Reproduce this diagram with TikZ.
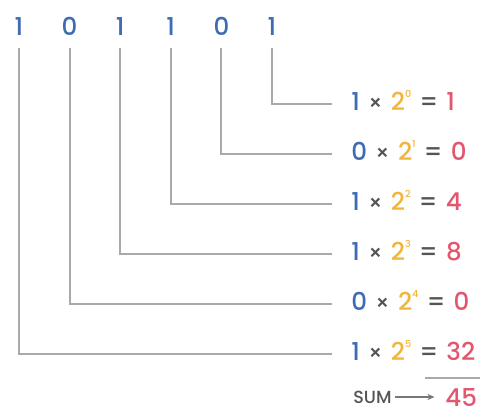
\documentclass[tikz,border=0pt]{standalone}
\usepackage{fontspec}
\setmainfont{Poppins}[UprightFont={* Medium}, BoldFont={* SemiBold}]
\usetikzlibrary{arrows.meta,positioning}

\definecolor{bitblue}{HTML}{3D6CB4}
\definecolor{powgold}{HTML}{F3B43C}
\definecolor{valred}{HTML}{E2566F}
\definecolor{opgray}{HTML}{555555}
\definecolor{wiregray}{HTML}{A9A9A9}

% power of two with a small raised exponent
\newcommand{\pw}[1]{2\raisebox{0.5em}{\fontsize{5.5}{5.5}\selectfont #1}}
\newcommand{\gap}{\hspace{4.6pt}}

\begin{document}
\begin{tikzpicture}[x=0.02cm, y=-0.02cm,
	bit/.style={text=bitblue, inner sep=0pt, font=\fontsize{14}{14}\selectfont, text height=0.7em, text depth=0pt},
	eqn/.style={anchor=west, inner sep=0pt, font=\fontsize{14}{14}\selectfont, text height=0.7em, text depth=0pt},
	wire/.style={wiregray, line width=1.1pt}]
	
	\useasboundingbox (0,0) rectangle (480,414);
	
	\foreach \i/\b/\v in {0/1/1, 1/0/0, 2/1/4, 3/1/8, 4/0/0, 5/1/32} {
		\node [bit] (b\i) at ({19+50.6*(5-\i)}, 29) {\b};
		
		\node [eqn] (r\i) at (351, {104+50*\i}) {\textcolor{bitblue}{\b}\gap\textcolor{opgray}{\fontsize{12}{12}\selectfont ×}\gap\textcolor{powgold}{\pw{\i}}\gap\textcolor{opgray}{=}\gap\textcolor{valred}{\v}};
		
		\draw [wire, shorten <=0.24cm, shorten >=0.38cm] (b\i.south) |- (r\i.west);
	}
	
	\node [anchor=west, inner sep=0pt, text=opgray, font=\fontsize{10}{10}\selectfont] (sum) at (353, 397) {SUM};
	\node [anchor=west, inner sep=0pt, text=valred, font=\fontsize{14}{14}\selectfont] (tot) at (445, 397) {45};
	
	\draw [opgray!80, line width=0.6pt, -{Stealth[length=4pt, width=3.5pt]}, shorten <=2pt, shorten >=6pt] (sum) -- (tot);
	
	\coordinate (rl) at (425, 378);
	\coordinate (rr) at (480, 378);
	\draw [wire, line width=0.9pt] (rl) -- (rr);
	
\end{tikzpicture}
\end{document}
